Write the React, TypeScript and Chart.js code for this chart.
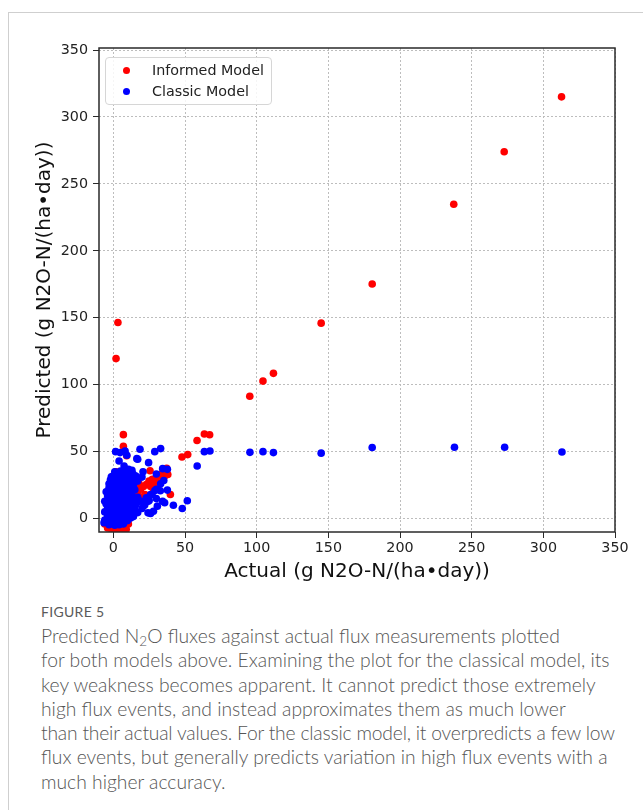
import React, { useEffect, useRef } from "react";
import { Chart, registerables } from "chart.js";

Chart.register(...registerables);

// ---------- data ----------
const xTickValues = [0, 50, 100, 150, 200, 250, 300, 350];
const yTickValues = [0, 50, 100, 150, 200, 250, 300, 350];

const seriesNames = ["Informed Model", "Classic Model"];
const seriesColors = ["#ff0000", "#0000ff"];

// Informed model: [actual, predicted]
const informedHigh: [number, number][] = [
  [312.7, 315], [272.7, 274], [237.5, 234.8], [180.6, 175.2], [145, 146],
  [111.7, 108.5], [104.4, 102.7], [95.2, 91.4], [67.2, 62.6], [63.5, 63.2],
  [58.4, 58.3], [51.9, 47.8], [47.9, 46], [39.8, 18], [37.2, 37.5],
  [3.2, 146.5], [1.9, 119.5], [7, 62.7], [7, 54], [9.3, 47],
];
const informedLow: [number, number][] = [
  [-4, -7], [-1, -8.5], [2, -8], [5, -9], [7, -6.5], [9, -8], [10.5, -4], [-6, -4],
  [17, 20], [19, 22], [21, 24], [23, 25.5], [25, 27], [27.2, 29.3], [29.6, 28],
  [30.8, 31.8], [33, 33], [34.4, 33.5], [35.5, 35], [24.9, 28], [26, 24], [30, 26],
  [32, 28.5], [34, 30], [28, 22], [22, 18], [36, 32], [25.6, 35.8], [18, 26],
  [12, 30], [10.6, 29], [31, 24], [38, 33], [20, 16],
  [0, 0], [3, 5], [6, 10], [9, 15], [12, 20], [15, 25], [4, 20], [8, 2], [1, 12],
  [-2, 6], [5, 28], [2, 35], [10, -2], [14, 10],
];

// Classic model: [actual, predicted]
const classicHigh: [number, number][] = [
  [63.5, 50], [67.4, 50.5], [95.3, 49.5], [104.4, 50], [111.7, 49.3],
  [145, 48.9], [180.6, 53.1], [238, 53.3], [273, 53.3], [313, 49.7],
];
const classicSpread: [number, number][] = [
  [1.6, 50], [4.7, 49.3], [8.2, 50.5], [9.4, 47.3], [4, 43], [7.5, 39.3],
  [10.6, 36.8], [12.9, 34.3], [15.7, 31.8], [16.4, 44.8], [24.6, 41.8],
  [28.9, 50], [18.6, 51.8], [33, 52.3], [17, 44.3], [20.7, 35], [30, 33.3],
  [37.7, 36.8], [34.4, 37.3], [58.5, 39.3], [32.8, 20.8], [37.7, 21.3],
  [30, 21.8], [35.2, 28.5], [35.8, 11.8], [41.9, 10],
  [48.1, 7.5], [51.6, 13.3], [30.7, 9.3], [26, 3.8], [21.5, 9.8], [24.4, 13],
  [24.2, 4.3], [28, 5.5], [34.4, 13], [29, 21], [33, 26], [26, 18],
  [30, 15], [-4.9, -0.8], [-3.7, 8.8], [-1.4, 31.3], [-6, 13],
  [-5, 20], [-3, 26], [-6.5, -3],
];
const classicCore: [number, number][] = [
  [-3, -4.5], [1, -5], [4, -4.5], [7, -4],
  [-5, -2.5], [-1, -2.5], [3, -2], [7, -2.5], [10, -1.5],
  [-6, -1], [-2, -0.5], [2, 0], [5, -0.5], [9, 0], [12, 0.5],
  [-4, 2], [0, 2.5], [4, 2], [7, 3], [11, 2], [14, 1.5],
  [-6, 5], [-2, 5.5], [2, 5], [6, 6], [9, 5], [13, 5.5], [17, 4.5],
  [-4, 8], [0, 8.5], [3, 8], [7, 9], [10, 8], [15, 8.5], [20, 7.5],
  [-5, 11], [-1, 11.5], [3, 11], [6, 12], [9, 11], [12, 11.5], [16, 11], [22, 10.5],
  [-3, 14], [1, 14.5], [4, 14], [8, 15], [11, 14], [14, 14.5], [19, 13], [25, 13.5],
  [-4, 17], [0, 17.5], [3, 17], [6, 18], [10, 17], [13, 17.5], [17, 16], [23, 15.5],
  [-2, 20], [2, 20.5], [5, 20], [9, 21], [12, 20], [15, 21.5], [27, 18],
  [-3, 23], [1, 23.5], [4, 23], [7, 24], [11, 23], [14, 24.5],
  [-1, 26], [2, 26.5], [6, 26], [9, 27], [13, 27], [17, 28],
  [-2, 29], [1, 29.5], [4, 29], [8, 30], [11, 30], [15, 30.5], [20, 31],
  [0, 32], [3, 32.5], [6, 32], [10, 33], [14, 33],
  [1, 35], [5, 35.5], [9, 35], [13, 36],
];

const xTitle = "Actual (g N2O-N/(ha\u2022day))";
const yTitle = "Predicted (g N2O-N/(ha\u2022day))";

const captionLabel = "FIGURE 5";

// ---------- chart ----------
const toPoints = (arr: [number, number][]) => arr.map(([x, y]) => ({ x, y }));

const framePlugin = {
  id: "frameBox",
  afterDatasetsDraw(chart: any) {
    const { ctx, chartArea } = chart;
    const { left, top, right, bottom } = chartArea;
    ctx.save();
    ctx.strokeStyle = "#2a2a2a";
    ctx.lineWidth = 1.5;
    ctx.strokeRect(left, top, right - left, bottom - top);
    ctx.restore();
  },
};

const tickFont = { family: "DejaVu Sans", size: 14.3 };
const titleFont = { family: "DejaVu Sans", size: 20 };

export default function App() {
  const canvasRef = useRef<HTMLCanvasElement | null>(null);

  useEffect(() => {
    if (!canvasRef.current) return;
    const chart = new Chart(canvasRef.current, {
      type: "scatter",
      data: {
        datasets: [
          {
            label: seriesNames[0],
            data: toPoints([...informedLow, ...informedHigh]),
            backgroundColor: seriesColors[0],
            borderColor: seriesColors[0],
            borderWidth: 0,
            pointRadius: 3.8,
            order: 1,
            clip: 0,
          },
          {
            label: seriesNames[1],
            data: toPoints([...classicCore, ...classicSpread, ...classicHigh]),
            backgroundColor: seriesColors[1],
            borderColor: seriesColors[1],
            borderWidth: 0,
            pointRadius: 3.8,
            order: 0,
            clip: 0,
          },
        ],
      },
      options: {
        responsive: false,
        animation: false,
        layout: { padding: { top: 48, right: 28, bottom: 0, left: 0 } },
        plugins: {
          legend: { display: false },
          tooltip: { enabled: false },
        },
        scales: {
          x: {
            type: "linear",
            min: -10,
            max: 350,
            afterBuildTicks: (scale: any) => {
              scale.ticks = xTickValues.map((v) => ({ value: v }));
            },
            afterFit: (scale: any) => {
              scale.height = 68;
            },
            ticks: {
              color: "#222",
              font: tickFont,
              padding: 2,
              maxRotation: 0,
              autoSkip: false,
            },
            grid: {
              color: "#bdbdbd",
              lineWidth: 1,
              drawTicks: true,
              tickLength: 6,
              tickColor: "#2a2a2a",
              tickWidth: 1,
            },
            border: { display: false, dash: [2, 2] },
            title: {
              display: true,
              text: xTitle,
              color: "#111",
              font: titleFont,
              padding: { top: 0, bottom: 16 },
            },
          },
          y: {
            type: "linear",
            min: -10,
            max: 351.5,
            afterBuildTicks: (scale: any) => {
              scale.ticks = yTickValues.map((v) => ({ value: v }));
            },
            afterFit: (scale: any) => {
              scale.width = 99;
            },
            ticks: {
              color: "#222",
              font: tickFont,
              padding: 5,
              autoSkip: false,
            },
            grid: {
              color: "#bdbdbd",
              lineWidth: 1,
              drawTicks: true,
              tickLength: 6,
              tickColor: "#2a2a2a",
              tickWidth: 1,
            },
            border: { display: false, dash: [2, 2] },
            title: {
              display: true,
              text: yTitle,
              color: "#111",
              font: titleFont,
              padding: { top: 33, bottom: 0 },
            },
          },
        },
      },
      plugins: [framePlugin],
    } as any);
    return () => chart.destroy();
  }, []);

  return (
    <div style={{ position: "absolute", left: 0, top: 0, width: 643, height: 810, background: "#fff", overflow: "hidden" }}>
      <div
        style={{
          position: "absolute",
          left: 8,
          top: 12,
          width: 643,
          height: 810,
          borderTop: "1px solid #cfcfcf",
          borderLeft: "1px solid #cfcfcf",
        }}
      />
      <canvas
        ref={canvasRef}
        width={643}
        height={600}
        style={{ position: "absolute", left: 0, top: 0, width: 643, height: 600 }}
      />
      <div
        style={{
          position: "absolute",
          left: 105,
          top: 57,
          width: 167,
          height: 48,
          boxSizing: "border-box",
          border: "1px solid #d6d6d6",
          borderRadius: 4,
          background: "rgba(255,255,255,0.85)",
          fontFamily: "DejaVu Sans",
          fontSize: 14.3,
          color: "#222",
        }}
      >
        {seriesNames.map((name, i) => (
          <div key={name} style={{ position: "absolute", left: 0, top: 3 + i * 20.5, height: 20, width: 165 }}>
            <span
              style={{
                position: "absolute",
                left: 17,
                top: 6,
                width: 7,
                height: 7,
                borderRadius: "50%",
                background: seriesColors[i],
              }}
            />
            <span style={{ position: "absolute", left: 46, top: 0, lineHeight: "18px", whiteSpace: "nowrap" }}>{name}</span>
          </div>
        ))}
      </div>
      <div
        style={{
          position: "absolute",
          left: 41,
          top: 602,
          fontFamily: "Lato",
          fontSize: 14,
          lineHeight: "20px",
          color: "#5a5a5a",
          letterSpacing: 0.3,
        }}
      >
        {captionLabel}
      </div>
      <div
        style={{
          position: "absolute",
          left: 41,
          top: 624,
          fontFamily: "Lato",
          fontWeight: 300,
          fontSize: 19.3,
          lineHeight: "24.3px",
          color: "#555",
          whiteSpace: "nowrap",
        }}
      >
        <div>
          Predicted N<sub style={{ fontSize: "0.7em", verticalAlign: "-0.25em", lineHeight: 0 }}>2</sub>O fluxes against actual flux measurements plotted
        </div>
        <div>for both models above. Examining the plot for the classical model, its</div>
        <div>key weakness becomes apparent. It cannot predict those extremely</div>
        <div>high flux events, and instead approximates them as much lower</div>
        <div style={{ letterSpacing: -0.2 }}>than their actual values. For the classic model, it overpredicts a few low</div>
        <div>flux events, but generally predicts variation in high flux events with a</div>
        <div>much higher accuracy.</div>
      </div>
    </div>
  );
}
